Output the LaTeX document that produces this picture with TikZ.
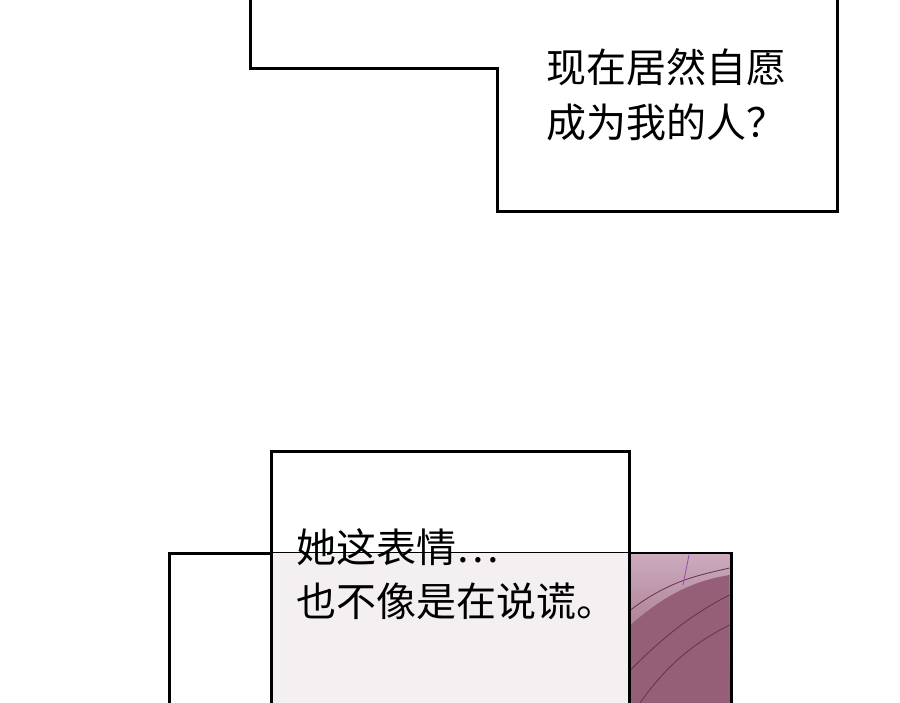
\documentclass[tikz,border=0pt]{standalone}
\usepackage{fontspec}
\newfontfamily\cjk{Noto Sans CJK SC}
\begin{document}
\begin{tikzpicture}
[x=1pt, y=-1pt, every node/.style={inner sep=0pt}, panel/.style={line width=3pt, draw=black}]
\useasboundingbox (0,0) rectangle (900,703);
\fill[white] (0,0) rectangle (900,703);
% top caption box
\draw [panel, fill=white] (250,-5) -- (250,69) -- (497,69) -- (497,212) -- (837,212) -- (837,-5);
\node (top) [anchor=north west, align=left, font=\cjk\fontsize{40}{55}\selectfont] at (546,48) {现在居然自愿\\成为我的人？};
% back panel with picture
\draw [panel, fill=white] (169,708) -- (169,553) -- (731,553) -- (731,708);
\shade [top color={rgb,255:red,205;green,170;blue,190}, bottom color={rgb,255:red,140;green,90;blue,110}] (630.5,554.5) rectangle (729.5,703);
\fill [color={rgb,255:red,150;green,95;blue,120}] (630.5,625) .. controls (670,590) and (700,580) .. (729.5,575) -- (729.5,703) -- (630.5,703) -- cycle;
\draw [color={rgb,255:red,100;green,50;blue,75}, line width=0.8pt] (630.5,610) .. controls (670,580) and (700,575) .. (729.5,568);
\draw [color={rgb,255:red,100;green,50;blue,75}, line width=0.8pt] (630.5,670) .. controls (670,630) and (700,610) .. (729.5,595);
\draw [color={rgb,255:red,100;green,50;blue,75}, line width=0.8pt] (640,703) .. controls (670,660) and (700,640) .. (729.5,625);
\draw [color={rgb,255:red,150;green,80;blue,170}, line width=0.8pt] (689,555) -- (683,585);
% front caption box
\fill [color={rgb,255:red,244;green,239;blue,241}] (271,553) rectangle (629,703);
\draw [panel] (271,708) -- (271,451) -- (629,451) -- (629,708);
\node (bottom) [anchor=north west, align=left, font=\cjk\fontsize{40}{54}\selectfont] at (296,528) {她这表情…\\也不像是在说谎。};
\end{tikzpicture}
\end{document}
